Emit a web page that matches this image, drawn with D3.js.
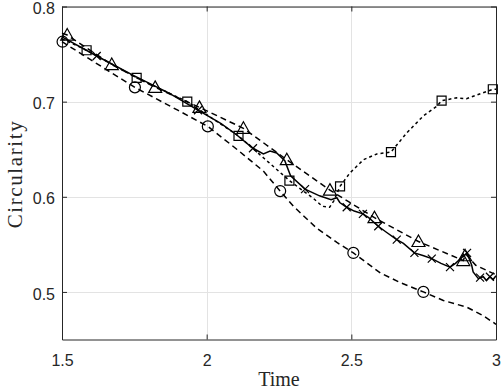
<!DOCTYPE html>
<html>
<head>
<meta charset="utf-8">
<script src="https://cdn.jsdelivr.net/npm/d3@7"></script>
<style>
  body { margin: 0; background: #fff; }
  svg { display: block; }
</style>
</head>
<body>
<svg id="chart" width="501" height="389"></svg>
<script>
// tick labels
var xTicks = [1.5, 2, 2.5, 3]
var yTicks = [0.5, 0.6, 0.7, 0.8]

// circle series (dashed)
var circT = [1.5, 1.62, 1.752, 1.9, 2.004, 2.104, 2.196, 2.254, 2.3, 2.38, 2.45, 2.507, 2.6, 2.668, 2.749, 2.818, 2.899, 2.956, 3.0]
var circV = [0.763, 0.740, 0.715, 0.691, 0.674, 0.650, 0.627, 0.606, 0.590, 0.567, 0.552, 0.541, 0.520, 0.510, 0.500, 0.491, 0.484, 0.475, 0.466]
var circMarkT = [1.502, 1.752, 2.004, 2.254, 2.507, 2.749]
var circMarkV = [0.763, 0.715, 0.674, 0.606, 0.541, 0.500]

// square series (dotted)
var sqT = [1.5, 1.585, 1.758, 1.933, 2.110, 2.2, 2.286, 2.33, 2.37, 2.40, 2.425, 2.44, 2.461, 2.495, 2.542, 2.588, 2.637, 2.691, 2.749, 2.795, 2.812, 2.864, 2.898, 2.933, 2.989, 3.0]
var sqV = [0.766, 0.754, 0.725, 0.700, 0.664, 0.640, 0.617, 0.607, 0.598, 0.590, 0.589, 0.596, 0.611, 0.625, 0.639, 0.645, 0.647, 0.667, 0.685, 0.695, 0.701, 0.704, 0.703, 0.707, 0.713, 0.713]
var sqMarkT = [1.585, 1.758, 1.933, 2.110, 2.286, 2.461, 2.637, 2.812, 2.989]
var sqMarkV = [0.754, 0.725, 0.700, 0.664, 0.617, 0.611, 0.647, 0.701, 0.713]

// triangle series (dashed)
var triT = [1.5, 1.518, 1.672, 1.822, 1.975, 2.127, 2.277, 2.426, 2.580, 2.732, 2.887, 2.895, 2.93, 3.0]
var triV = [0.772, 0.770, 0.739, 0.715, 0.694, 0.672, 0.639, 0.607, 0.578, 0.553, 0.533, 0.540, 0.528, 0.518]
var triMarkT = [1.518, 1.672, 1.822, 1.975, 2.127, 2.277, 2.426, 2.580, 2.732, 2.887, 2.893]
var triMarkV = [0.770, 0.739, 0.715, 0.694, 0.672, 0.639, 0.607, 0.578, 0.553, 0.533, 0.538]

// cross series (solid)
var crT = [1.5, 1.62, 1.75, 1.87, 1.97, 2.05, 2.10, 2.16, 2.196, 2.219, 2.242, 2.27, 2.29, 2.34, 2.39, 2.43, 2.45, 2.46, 2.484, 2.51, 2.54, 2.56, 2.593, 2.62, 2.657, 2.68, 2.718, 2.75, 2.778, 2.81, 2.841, 2.86, 2.885, 2.90, 2.916, 2.921, 2.939, 2.945, 2.956, 2.967, 2.979, 2.99, 3.0]
var crV = [0.768, 0.748, 0.727, 0.709, 0.691, 0.677, 0.666, 0.651, 0.645, 0.648, 0.646, 0.638, 0.622, 0.608, 0.601, 0.597, 0.599, 0.594, 0.589, 0.585, 0.582, 0.578, 0.569, 0.563, 0.555, 0.551, 0.541, 0.538, 0.535, 0.530, 0.526, 0.530, 0.537, 0.541, 0.528, 0.521, 0.514, 0.515, 0.516, 0.512, 0.516, 0.513, 0.517]
var crMarkT = [1.62, 1.97, 2.16, 2.34, 2.484, 2.54, 2.593, 2.657, 2.718, 2.778, 2.841, 2.90, 2.945, 2.979]
var crMarkV = [0.748, 0.691, 0.651, 0.608, 0.589, 0.582, 0.569, 0.555, 0.541, 0.535, 0.526, 0.541, 0.515, 0.516]

var svg = d3.select('#chart')
var axisColor = '#262626'

var x = d3.scaleLinear().domain([1.5, 3]).range([62, 496])
var y = d3.scaleLinear().domain([0.45, 0.8]).range([339.5, 6.5])

function zip(a, b) {
    return a.map(function(d, i) { return [d, b[i]] })
}

// grid
svg.append('g').selectAll('line.vg')
    .data(xTicks).enter().append('line')
    .attr('x1', function(d) { return Math.round(x(d)) + 0.5 })
    .attr('x2', function(d) { return Math.round(x(d)) + 0.5 })
    .attr('y1', y(0.8)).attr('y2', y(0.45))
    .attr('stroke', '#e3e3e3')
svg.append('g').selectAll('line.hg')
    .data(yTicks).enter().append('line')
    .attr('y1', function(d) { return Math.round(y(d)) + 0.5 })
    .attr('y2', function(d) { return Math.round(y(d)) + 0.5 })
    .attr('x1', x(1.5)).attr('x2', x(3))
    .attr('stroke', '#e3e3e3')

// axes
var bottom = svg.append('g')
    .attr('transform', 'translate(0,' + y(0.45) + ')')
    .call(d3.axisBottom(x).tickValues(xTicks).tickFormat(function(d) { return String(d) })
        .tickSizeInner(-5).tickSizeOuter(0).tickPadding(15))
var left = svg.append('g')
    .attr('transform', 'translate(' + x(1.5) + ',0)')
    .call(d3.axisLeft(y).tickValues(yTicks).tickFormat(function(d) { return d.toFixed(1) })
        .tickSizeInner(-5).tickSizeOuter(0).tickPadding(7))
left.selectAll('.tick text').attr('dy', '0.45em')
var top = svg.append('g')
    .attr('transform', 'translate(0,' + y(0.8) + ')')
    .call(d3.axisTop(x).tickValues(xTicks).tickFormat('').tickSizeInner(-5).tickSizeOuter(0))
var right = svg.append('g')
    .attr('transform', 'translate(' + x(3) + ',0)')
    .call(d3.axisRight(y).tickValues(yTicks).tickFormat('').tickSizeInner(-5).tickSizeOuter(0))

svg.selectAll('.domain').attr('stroke', axisColor)
svg.selectAll('.tick line').attr('stroke', axisColor)
svg.selectAll('.tick text')
    .attr('fill', axisColor)
    .style('font-family', '"Liberation Sans", Arial, sans-serif')
    .style('font-size', '16px')

// lines
var line = d3.line()
    .x(function(d) { return x(d[0]) })
    .y(function(d) { return y(d[1]) })

var plot = svg.append('g')
function drawLine(t, v, dash) {
    plot.append('path')
        .datum(zip(t, v))
        .attr('d', line)
        .attr('fill', 'none')
        .attr('stroke', '#000')
        .attr('stroke-width', 1.5)
        .attr('stroke-dasharray', dash)
}
drawLine(circT, circV, '6,4')
drawLine(sqT, sqV, '3,3')
drawLine(triT, triV, '6,4')
drawLine(crT, crV, null)

// markers
function drawMarks(t, v, pathFn) {
    plot.append('g').selectAll('path')
        .data(zip(t, v)).enter().append('path')
        .attr('transform', function(d) { return 'translate(' + x(d[0]) + ',' + y(d[1]) + ')' })
        .attr('d', pathFn)
        .attr('fill', 'none')
        .attr('stroke', '#000')
        .attr('stroke-width', 1.2)
}
drawMarks(circMarkT, circMarkV, function() {
    var p = d3.path(); p.arc(0, 0, 5.5, 0, 2 * Math.PI); return p.toString()
})
drawMarks(sqMarkT, sqMarkV, function() { return 'M-4.5,-4.5H4.5V4.5H-4.5Z' })
drawMarks(triMarkT, triMarkV, function() { return 'M0,-6.5L6.5,5L-6.5,5Z' })
drawMarks(crMarkT, crMarkV, function() { return 'M-4,-4L4,4M-4,4L4,-4' })

// axis titles
svg.append('text')
    .attr('x', 279).attr('y', 386)
    .attr('text-anchor', 'middle')
    .style('font-family', '"Liberation Serif", "DejaVu Serif", serif')
    .style('font-size', '20px')
    .attr('fill', axisColor)
    .text('Time')
svg.append('text')
    .attr('transform', 'translate(22,174) rotate(-90)')
    .attr('text-anchor', 'middle')
    .style('font-family', '"Liberation Serif", "DejaVu Serif", serif')
    .style('font-size', '21px')
    .style('letter-spacing', '1.6px')
    .attr('fill', axisColor)
    .text('Circularity')
</script>
</body>
</html>
